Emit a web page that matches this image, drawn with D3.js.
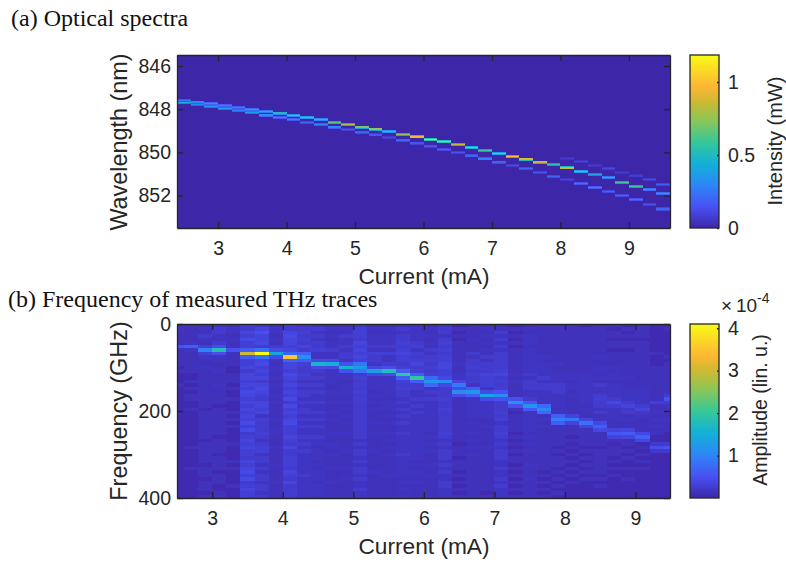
<!DOCTYPE html>
<html>
<head>
<meta charset="utf-8">
<script src="https://cdn.jsdelivr.net/npm/d3@7"></script>
<style>
  html, body { margin: 0; padding: 0; background: #fff; }
  svg { display: block; }
  text { fill: #262626; font-family: "Liberation Sans", Arial, sans-serif; }
  .serif { font-family: "Liberation Serif", "Times New Roman", serif; fill: #111; }
</style>
</head>
<body>
<script>
// panel a: current columns and the laser lines
var spectraCurrents = [2.5,2.7,2.9,3.1,3.3,3.5,3.7,3.9,4.1,4.3,4.5,4.7,4.9,5.1,5.3,5.5,5.7,5.9,6.1,6.3,6.5,6.7,6.9,7.1,7.3,7.5,7.7,7.9,8.1,8.3,8.5,8.7,8.9,9.1,9.3,9.5];
var lineAWave = [847.59,847.67,847.72,847.82,847.92,848.01,848.10,848.18,848.30,848.40,848.49,848.60,848.71,848.83,848.92,849.03,849.17,849.28,849.39,849.51,849.63,849.77,849.90,850.04,850.18,850.31,850.45,850.56,850.72,850.87,851.03,851.16,851.38,851.57,851.72,851.89];
var lineAPower = [0.25,0.3,0.35,0.3,0.3,0.4,0.45,0.5,0.6,0.65,0.55,0.65,0.8,0.7,0.75,0.6,0.75,0.95,1.0,0.95,0.85,0.8,0.6,0.7,1.0,0.9,0.85,0.55,0.85,0.65,0.4,0.45,0.6,0.6,0.4,0.4];
var lineBWave = [847.70,847.78,847.86,847.96,848.06,848.16,848.27,848.38,848.49,848.60,848.71,848.83,848.95,849.06,849.19,849.31,849.43,849.57,849.71,849.85,849.99,850.16,850.30,850.45,850.59,850.76,850.93,851.10,851.26,851.44,851.61,851.81,852.00,852.19,852.40,852.62];
var lineBPower = [0.45,0.3,0.35,0.38,0.3,0.38,0.35,0.28,0.28,0.2,0.3,0.3,0.15,0.2,0.15,0.12,0.2,0.15,0.15,0.2,0.15,0.2,0.28,0.2,0.12,0.2,0.15,0.2,0.1,0.25,0.3,0.2,0.2,0.25,0.15,0.2];
var lineCWave = [null,null,null,null,null,null,null,null,null,null,null,null,null,null,null,null,null,null,null,null,null,null,null,null,null,null,null,null,850.27,850.42,850.59,850.75,850.92,851.09,851.27,851.47];
var lineCPower = [0,0,0,0,0,0,0,0,0,0,0,0,0,0,0,0,0,0,0,0,0,0,0,0,0,0,0,0,0.08,0.1,0.08,0.12,0.08,0.08,0.12,0.18];

// panel b: ridge of the THz traces, one entry per current column
var traceCurrents = spectraCurrents;
var ridgeFreq = [48,52,56,56,60,66,67,68,76,79,88,88,97,100,108,110,117,120,130,134,152,152,161,165,177,189,198,217,218,228,238,251,253,258,284,284];
var ridgeAmp = [0.5,0.6,1.0,1.8,0.5,3.0,4.1,1.4,3.5,1.1,1.6,1.5,1.6,1.2,1.3,1.8,2.0,2.0,1.2,1.1,1.1,1.2,1.4,1.1,1.2,1.2,1.05,0.95,0.85,0.8,0.65,0.55,0.6,0.65,0.45,0.5];
// how far the ridge glows into the next rows, as a share of its height
var ridgeGlow = [0.3,0.3,0.3,0.25,0.3,0.2,0.2,0.3,0.2,0.6,0.25,0.25,0.3,0.7,0.3,0.25,0.3,0.3,0.6,0.35,0.4,0.5,0.3,0.45,0.4,0.45,0.7,0.65,0.4,0.45,0.6,0.6,0.6,0.6,0.5,0.5];
var secondFreq = [null,null,null,null,null,null,null,null,null,null,null,null,null,null,null,null,null,null,null,null,141,null,null,null,null,null,null,null,null,null,null,182,191,192,182,171];
var secondAmp = [0,0,0,0,0,0,0,0,0,0,0,0,0,0,0,0,0,0,0,0,0.9,0,0,0,0,0,0,0,0,0,0,0.4,0.35,0.35,0.3,0.5];

// background stripes of each trace, 8 GHz per digit, top row first (estimated levels)
var traceRows = [
  "2322222222 2212111211 1111111111 1111111111 1111111111",
  "2222222222 2222112121 2211211111 1111121111 1211111111",
  "3324322223 2232222222 2222122222 2221222222 1222122212",
  "3443344333 3223222322 2221222222 2212222122 2212221122",
  "2332322222 2211222121 1211121212 1111211112 1211112111",
  "5465755675 5564665657 6565656575 7456565546 5675745655",
  "4686674765 6756564676 5466563544 4543455344 3434434434",
  "2332324342 3233232322 3232222322 3322232222 3222232222",
  "5467665676 5665765656 5747565675 5565464455 5465464444",
  "4454546444 4544543434 4343443434 3343434333 3334333333",
  "3434344533 4344343434 3343343434 3343323332 3233323332",
  "2323233433 2343333223 3232232322 2322332322 2322232222",
  "2324334344 3343332333 3232323232 2322223222 2322322222",
  "4555465656 5655454545 4544444444 4443434434 3443433433",
  "2323334354 4333433332 3232322232 2322223222 2232222222",
  "2323334353 3433333333 3233323232 2323232322 2223222222",
  "3434454565 5454545454 4343434343 3433333433 3333232323",
  "3333345354 5645444443 3434343333 3333333332 3233232222",
  "2323232434 5454545434 3433333333 3232323222 3223222222",
  "4443454545 5665554544 4544544444 4543434443 4343344333",
  "1212122222 2322332322 2222222222 2222122212 2212121212",
  "2222322243 4454544333 3333333232 2323232322 2222222222",
  "2323232324 3444655533 3333333223 2222232222 2222222212",
  "3343434344 4445645454 4544454534 4543434443 3433434333",
  "1212121222 2222323222 2222212222 2121212122 1212121212",
  "2323332333 3333434443 3433333333 3232323222 3222322222",
  "2222222223 2333343443 3333232323 2222222222 2212121212",
  "2222222222 2322333444 3333232222 2222212122 2121212121",
  "2222222222 2222332332 3222222222 2212121212 1212121111",
  "1222222222 2222333333 3332322322 2222212121 2121211111",
  "2222222223 2233232433 4544342322 2222212222 2221212111",
  "2122122122 2232332333 3434333322 2222122212 1212111111",
  "1212122122 2222232233 3344342322 2212212121 1211211111",
  "2222122222 2222222233 3334433222 2212121212 1211111111",
  "1111111121 1122222222 2222232323 2211211111 1111111111",
  "1211111112 1222222222 2223222322 2111111111 1111111111"
];

// tick labels
var xTicks = [3,4,5,6,7,8,9];
var waveTicks = [846,848,850,852];
var freqTicks = [0,200,400];
var intensityTicks = [0,0.5,1];
var amplitudeTicks = [1,2,3,4];

var width = 786;
var height = 562;

var svg = d3.select('body').append('svg')
  .attr('width', width)
  .attr('height', height);

// parula-like colormap on 0..1
var parula = d3.scaleLinear()
  .domain([0,0.125,0.25,0.375,0.5,0.625,0.73,0.82,1])
  .range(['#3e26a8','#4752f4','#2d87f7','#12b1d6','#37c897','#8cc656','#cdb932','#fdb733','#f9fb15']);

// scales for panel a
var xA = d3.scaleLinear().domain([2.4,9.6]).range([177,670]);
var yA = d3.scaleLinear().domain([845.49,853.5]).range([55,228]);
var colorA = d3.scaleLinear().domain([0,1.185]).range([0,1]);

// scales for panel b
var xB = d3.scaleLinear().domain([2.5,9.49]).range([177,670]);
var yB = d3.scaleLinear().domain([0,400]).range([324,498]);
var colorB = d3.scaleLinear().domain([0,4.1]).range([0,1]);

// slight blur, the reference is a scaled bitmap
var defs = svg.append('defs');
defs.append('filter').attr('id','soft')
  .attr('x','-2%').attr('y','-2%').attr('width','104%').attr('height','104%')
  .append('feGaussianBlur').attr('stdDeviation',0.45);
function addClip(id, x, y) {
  defs.append('clipPath').attr('id',id).append('rect')
    .attr('x',x.range()[0]).attr('y',y.range()[0])
    .attr('width',x.range()[1]-x.range()[0]).attr('height',y.range()[1]-y.range()[0]);
}
addClip('clipA', xA, yA);
addClip('clipB', xB, yB);

svg.append('rect')
  .attr('x', xA(2.4)).attr('y', yA.range()[0])
  .attr('width', xA(9.6)-xA(2.4)).attr('height', yA.range()[1]-yA.range()[0])
  .attr('fill', parula(0));
svg.append('rect')
  .attr('x', xB(2.5)).attr('y', yB.range()[0])
  .attr('width', xB(9.49)-xB(2.5)).attr('height', yB.range()[1]-yB.range()[0])
  .attr('fill', parula(colorB(0.1)));

var rectsA = svg.append('g').attr('clip-path','url(#clipA)').append('g').attr('filter','url(#soft)');
var rectsB = svg.append('g').attr('clip-path','url(#clipB)').append('g').attr('filter','url(#soft)');

// one laser line: a dim skirt and a thin bright core in each column
function drawLine(waves, powers) {
  waves.forEach(function(w, i) {
    if (w === null) return;
    var left = xA(2.4 + i*0.2);
    var cw = xA(2.6 + i*0.2) - left;
    rectsA.append('rect')
      .attr('x', left).attr('width', cw)
      .attr('y', yA(w-0.07)).attr('height', yA(w+0.07)-yA(w-0.07))
      .attr('fill', parula(colorA(powers[i]*0.55)))
      .attr('shape-rendering','crispEdges');
    rectsA.append('rect')
      .attr('x', left).attr('width', cw)
      .attr('y', yA(w-0.03)).attr('height', yA(w+0.03)-yA(w-0.03))
      .attr('fill', parula(colorA(powers[i])))
      .attr('shape-rendering','crispEdges');
  });
}
drawLine(lineCWave, lineCPower);
drawLine(lineBWave, lineBPower);
drawLine(lineAWave, lineAPower);

// panel b cells, half width columns at both ends
var rowStep = 8;
traceCurrents.forEach(function(c, i) {
  var digits = traceRows[i].replace(/ /g,'');
  var x0 = xB(Math.max(c-0.1, 2.5));
  var x1 = xB(Math.min(c+0.1, 9.49));
  for (var r = 0; r < digits.length; r++) {
    var v = +digits[r]*0.06;
    var peaks = [[ridgeFreq[i],ridgeAmp[i]],[secondFreq[i],secondAmp[i]]];
    peaks.forEach(function(p) {
      if (p[0] === null) return;
      var d = Math.abs(r - Math.floor(p[0]/rowStep));
      if (d === 0) v = Math.max(v, p[1]);
      if (d === 1) v = Math.max(v, p[1]*ridgeGlow[i]);
    });
    rectsB.append('rect')
      .attr('x', x0).attr('width', x1-x0+0.5)
      .attr('y', yB(r*rowStep)).attr('height', yB(rowStep)-yB(0)+0.5)
      .attr('fill', parula(colorB(v)))
      .attr('shape-rendering','crispEdges');
  }
});

// box axes with inward ticks on all four sides
function drawBox(x, y, yTicks) {
  var l = x.range()[0], r = x.range()[1], t = y.range()[0], b = y.range()[1];
  var bottom = svg.append('g').attr('transform','translate(0,'+b+')')
    .call(d3.axisBottom(x).tickValues(xTicks).tickSizeInner(-6).tickSizeOuter(0).tickPadding(13).tickFormat(d3.format('d')));
  var top = svg.append('g').attr('transform','translate(0,'+t+')')
    .call(d3.axisTop(x).tickValues(xTicks).tickSizeInner(-6).tickSizeOuter(0).tickFormat(''));
  var left = svg.append('g').attr('transform','translate('+l+',0)')
    .call(d3.axisLeft(y).tickValues(yTicks).tickSizeInner(-6).tickSizeOuter(0).tickPadding(6).tickFormat(d3.format('d')));
  var right = svg.append('g').attr('transform','translate('+r+',0)')
    .call(d3.axisRight(y).tickValues(yTicks).tickSizeInner(-6).tickSizeOuter(0).tickFormat(''));
  [bottom,top,left,right].forEach(function(a) {
    a.selectAll('path,line').attr('stroke','#262626').attr('stroke-width',1.3);
    a.selectAll('text').attr('font-size',19.5).attr('fill','#262626')
      .attr('font-family','"Liberation Sans", Arial, sans-serif');
  });
}
drawBox(xA, yA, waveTicks);
drawBox(xB, yB, freqTicks);

// colorbars, a vertical gradient so no seams show between levels
function drawColorbar(id, x0, x1, scale, ticks) {
  var top = scale.range()[1], bot = scale.range()[0];
  var grad = defs.append('linearGradient').attr('id',id)
    .attr('x1',0).attr('y1',1).attr('x2',0).attr('y2',0);
  parula.domain().forEach(function(d) {
    grad.append('stop').attr('offset',d).attr('stop-color',parula(d));
  });
  svg.append('rect').attr('x',x0).attr('y',top).attr('width',x1-x0).attr('height',bot-top)
    .attr('fill','url(#'+id+')').attr('stroke','#262626').attr('stroke-width',1.3);
  var ax = svg.append('g').attr('transform','translate('+x1+',0)')
    .call(d3.axisRight(scale).tickValues(ticks).tickSizeInner(-2).tickSizeOuter(0).tickPadding(9).tickFormat(d3.format('~g')));
  ax.select('.domain').remove();
  ax.selectAll('line').attr('stroke','#262626').attr('stroke-width',1.3);
  ax.selectAll('text').attr('font-size',19.5).attr('fill','#262626')
    .attr('font-family','"Liberation Sans", Arial, sans-serif');
}
var cbarA = d3.scaleLinear().domain([0,1.185]).range([228,55]);
var cbarB = d3.scaleLinear().domain([0,4.1]).range([498,324]);
drawColorbar('gradA', 690, 719, cbarA, intensityTicks);
drawColorbar('gradB', 690, 719, cbarB, amplitudeTicks);

// titles and axis labels
svg.append('text').attr('class','serif').attr('x',11).attr('y',26).attr('font-size',24).text('(a) Optical spectra');
svg.append('text').attr('class','serif').attr('x',8).attr('y',307).attr('font-size',24).text('(b) Frequency of measured THz traces');

svg.append('text').attr('x',424).attr('y',284).attr('text-anchor','middle').attr('font-size',22.7).text('Current (mA)');
svg.append('text').attr('x',424).attr('y',554).attr('text-anchor','middle').attr('font-size',22.7).text('Current (mA)');

function vertical(x, y, size, label) {
  svg.append('text')
    .attr('transform','translate('+x+','+y+') rotate(-90)')
    .attr('text-anchor','middle').attr('font-size',size).text(label);
}
vertical(127, 142, 23.4, 'Wavelength (nm)');
vertical(127, 411, 23.4, 'Frequency (GHz)');
vertical(782, 141, 20, 'Intensity (mW)');
vertical(767, 410, 19.5, 'Amplitude (lin. u.)');

// exponent above the second colorbar
svg.append('text').attr('x',721).attr('y',312).attr('font-size',19).text('\u00d7');
svg.append('text').attr('x',736).attr('y',312).attr('font-size',19).text('10');
svg.append('text').attr('x',757).attr('y',303).attr('font-size',14).text('-4');
</script>
</body>
</html>
